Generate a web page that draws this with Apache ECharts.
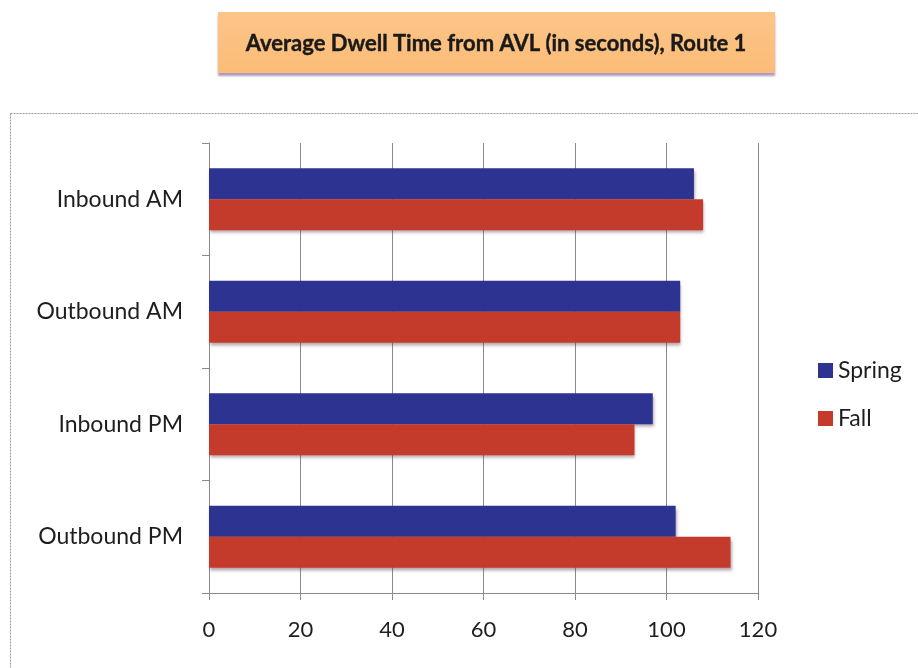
<!DOCTYPE html>
<html>
<head>
<meta charset="utf-8">
<script src="https://cdn.jsdelivr.net/npm/echarts@6/dist/echarts.min.js"></script>
<style>
  html, body { margin: 0; padding: 0; background: #fff; }
  #chart { width: 918px; height: 668px; }
</style>
</head>
<body>
<div id="chart"></div>
<script>
// Average dwell time per route segment and period
var categories = ['Inbound AM', 'Outbound AM', 'Inbound PM', 'Outbound PM'];
var springValues = [106, 103, 97, 102];
var fallValues = [108, 103, 93, 114];
var xTicks = [0, 20, 40, 60, 80, 100, 120];
var titleText = 'Average Dwell Time from AVL (in seconds), Route 1';

var FONT = 'Lato, "Open Sans", sans-serif';

var chart = echarts.init(document.getElementById('chart'), null, { renderer: 'canvas' });

var barShadow = {
  shadowColor: 'rgba(90, 60, 80, 0.45)',
  shadowBlur: 3,
  shadowOffsetX: 1,
  shadowOffsetY: 3
};

chart.setOption({
  animation: false,
  backgroundColor: '#ffffff',
  graphic: [
    {
      // outer chart frame
      type: 'rect',
      z: 0,
      shape: { x: 10.5, y: 113.5, width: 940, height: 600 },
      style: { fill: 'none', stroke: '#9a9a9a', lineWidth: 1, lineDash: [2, 1] }
    },
    {
      // title banner
      type: 'rect',
      z: 1,
      shape: { x: 218, y: 12, width: 557, height: 61 },
      style: {
        fill: new echarts.graphic.LinearGradient(0, 0, 0, 1, [
          { offset: 0, color: '#FCC588' },
          { offset: 1, color: '#FBBC78' }
        ]),
        shadowColor: 'rgba(140, 110, 170, 0.7)',
        shadowBlur: 2,
        shadowOffsetY: 3
      }
    },
    {
      type: 'text',
      z: 2,
      x: 496,
      y: 44,
      style: {
        text: titleText,
        align: 'center',
        verticalAlign: 'middle',
        font: 'bold 22px ' + FONT,
        fill: '#1a1a1a',
        stroke: '#1a1a1a',
        lineWidth: 0.4
      }
    }
  ],
  legend: {
    orient: 'vertical',
    left: 813,
    top: 354,
    itemWidth: 15,
    itemHeight: 15,
    itemGap: 25,
    icon: 'rect',
    textStyle: { fontFamily: FONT, fontSize: 23, color: '#1e1e1e' },
    data: ['Spring', 'Fall']
  },
  grid: { left: 209, right: 160, top: 143, bottom: 75, containLabel: false },
  xAxis: {
    type: 'value',
    min: xTicks[0],
    max: xTicks[xTicks.length - 1],
    interval: xTicks[1] - xTicks[0],
    axisLine: { show: true, lineStyle: { color: '#8a8a8a', width: 1 } },
    axisTick: { show: true, length: 7, lineStyle: { color: '#8a8a8a' } },
    axisLabel: { margin: 26, fontFamily: FONT, fontSize: 22, color: '#1e1e1e' },
    splitLine: { show: true, lineStyle: { color: '#8a8a8a', width: 1 } }
  },
  yAxis: {
    type: 'category',
    inverse: true,
    data: categories,
    axisLine: { show: true, lineStyle: { color: '#8a8a8a', width: 1 } },
    axisTick: { show: true, length: 7, lineStyle: { color: '#8a8a8a' } },
    axisLabel: { margin: 26, fontFamily: FONT, fontSize: 23, color: '#1e1e1e' },
    splitLine: { show: false }
  },
  series: [
    {
      name: 'Spring',
      type: 'bar',
      data: springValues,
      barGap: '0%',
      barCategoryGap: '45%',
      itemStyle: Object.assign({ color: '#2C3391' }, barShadow)
    },
    {
      name: 'Fall',
      type: 'bar',
      data: fallValues,
      barGap: '0%',
      barCategoryGap: '45%',
      itemStyle: Object.assign({ color: '#C43A2B' }, barShadow)
    }
  ]
});
</script>
</body>
</html>
